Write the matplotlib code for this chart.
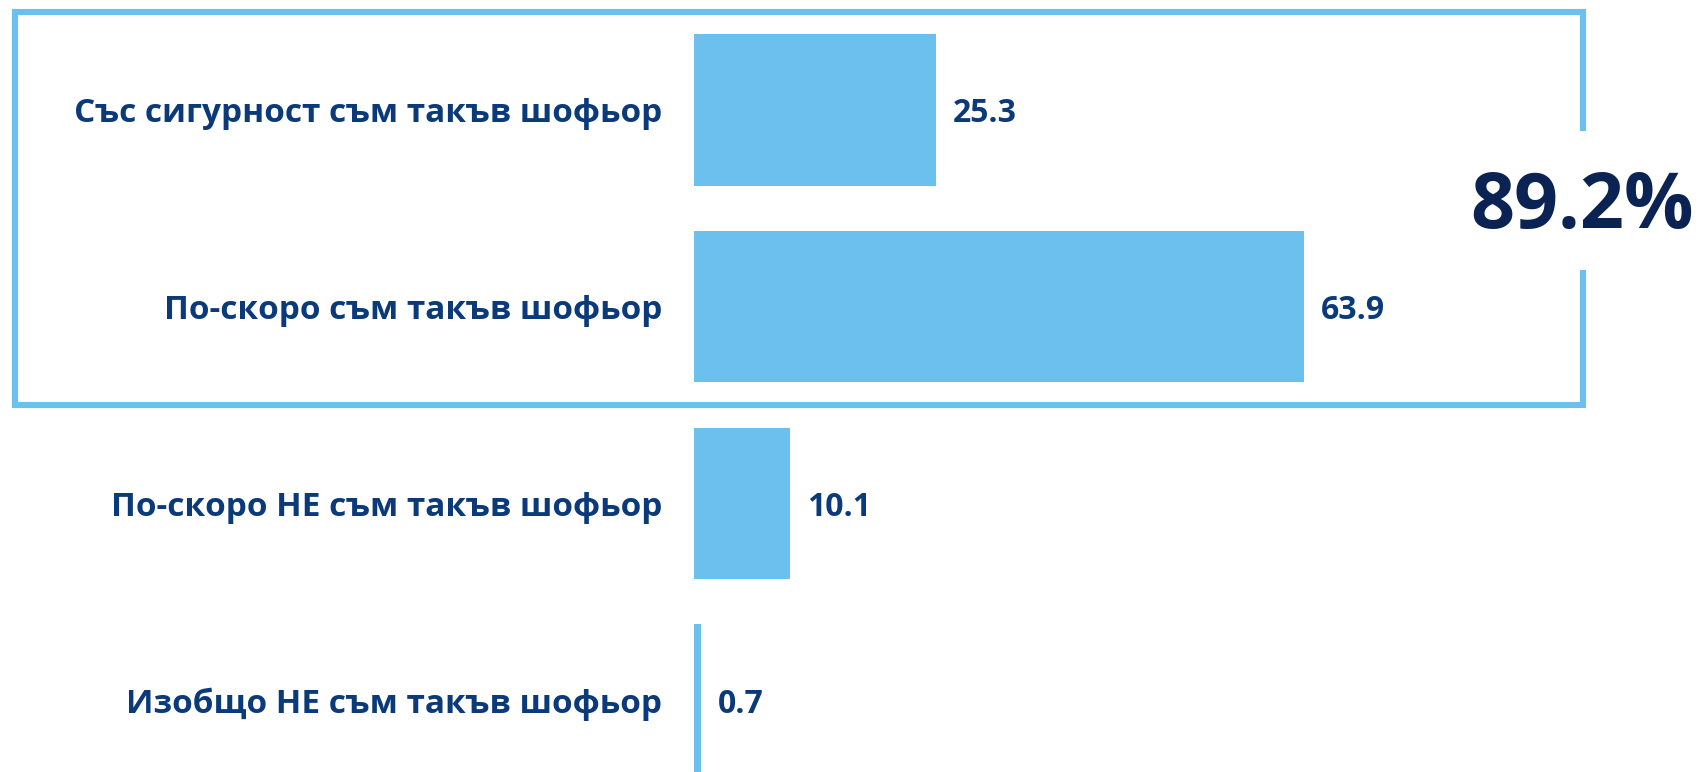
import matplotlib
matplotlib.use("Agg")
import matplotlib.pyplot as plt
from matplotlib.lines import Line2D

categories = [
    "Със сигурност съм такъв шофьор",
    "По-скоро съм такъв шофьор",
    "По-скоро НЕ съм такъв шофьор",
    "Изобщо НЕ съм такъв шофьор",
]
values = [25.3, 63.9, 10.1, 0.7]

bar_color = "#6cc0ee"
label_color = "#0b3a7b"
big_color = "#0a2352"
plt.rcParams['font.family'] = ['Open Sans', 'DejaVu Sans']

fig = plt.figure(figsize=(17.01, 7.72), dpi=100)
ax = fig.add_axes([0, 0, 1, 1])

pos = list(range(len(categories)))
ax.barh(pos, values, height=0.77, color=bar_color)
ax.set_xlim(-72.67, 105.45)
ax.set_ylim(3.366, -0.559)
ax.set_axis_off()

for i, (cat, v) in enumerate(zip(categories, values)):
    ax.annotate(cat, xy=(0, i), xytext=(-32, -4), textcoords="offset pixels",
                ha="right", va="center", fontsize=24, fontweight="bold", color=label_color)
    ax.annotate(f"{v:.1f}", xy=(v, i), xytext=(17, -4), textcoords="offset pixels",
                ha="left", va="center", fontsize=23, fontweight="bold", color=label_color)

# box around the first two answers, with a gap for the total
total = values[0] + values[1]
tr = ax.get_yaxis_transform()  # x in axes fraction, y in data
xl, xr = 0.0088, 0.9306
y_top, y_bot = -0.5, 1.5
gap_top, gap_bot = 0.09, 0.83
lw = 4.4
ax.add_line(Line2D([xr, xr, xl, xl, xr, xr], [gap_top, y_top, y_top, y_bot, y_bot, gap_bot],
                   transform=tr, color=bar_color, lw=lw, solid_joinstyle="miter", clip_on=False))
ax.text(0.9302, 0.50, f"{total:.1f}%", transform=tr, ha="center", va="center",
        fontsize=55.5, fontweight="bold", color=big_color)

fig.savefig("out.png", dpi=100, facecolor="white")
